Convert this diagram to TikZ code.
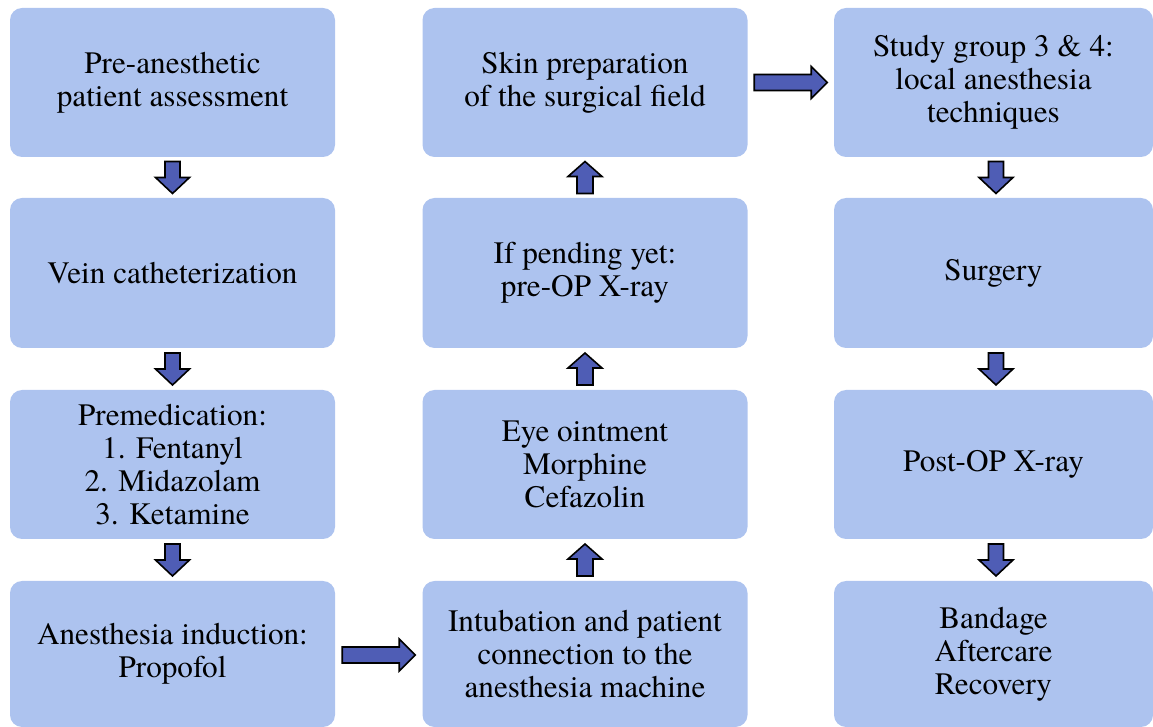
\documentclass[tikz,border=0pt]{standalone}
\usepackage{fontspec}
\setmainfont{texgyretermes}[Extension=.otf, UprightFont=*-regular, BoldFont=*-bold, ItalicFont=*-italic, BoldItalicFont=*-bolditalic]
\usetikzlibrary{calc}
\definecolor{boxblue}{HTML}{ADC3EF}
\definecolor{arrblue}{HTML}{4F5DB5}
\tikzset{
  stepbox/.style={fill=boxblue, rounded corners=6pt, minimum width=162.5pt, inner sep=0pt,
    align=center, font=\fontsize{15.6}{16.5}\selectfont, text=black},
  blockarrow/.style={draw=black, fill=arrblue, line width=0.8pt, line join=miter},
  darrow/.pic={\path[blockarrow] (-7.5,-16)--(7.5,-16)--(7.5,0)--(17,0)--(0,16)--(-17,0)--(-7.5,0)--cycle;},
  uarrow/.pic={\path[blockarrow] (-8,16)--(8,16)--(8,-1)--(17,-1)--(0,-16)--(-17,-1)--(-8,-1)--cycle;},
  rarrow/.pic={\path[blockarrow] (-36.5,-8)--(20.5,-8)--(20.5,-16)--(36.5,0)--(20.5,16)--(20.5,8)--(-36.5,8)--cycle;}
}
\begin{document}
\begin{tikzpicture}[x=0.5pt,y=-0.5pt]
\useasboundingbox (0,0) rectangle (1153,727);
% column 1
\node[stepbox, minimum height=74.5pt] (a1) at (172.5,82.5) {Pre-anesthetic\\patient assessment};
\node[stepbox, minimum height=75pt] (a2) at (172.5,273) {Vein catheterization};
\node[stepbox, minimum height=74.5pt] (a3) at (172.5,464.5) {Premedication:\\1. Fentanyl\\2. Midazolam\\3. Ketamine};
\node[stepbox, minimum height=73pt] (a4) at (172.5,654) {Anesthesia induction:\\Propofol};
% column 2
\node[stepbox, minimum height=73pt] (b4) at (585,654) {Intubation and patient\\connection to the\\anesthesia machine};
\node[stepbox, minimum height=74.5pt] (b3) at (585,464.5) {Eye ointment\\Morphine\\Cefazolin};
\node[stepbox, minimum height=75pt] (b2) at (585,273) {If pending yet:\\pre-OP X-ray};
\node[stepbox, minimum height=74.5pt] (b1) at (585,82.5) {Skin preparation\\of the surgical field};
% column 3
\node[stepbox, minimum width=159.5pt, minimum height=74.5pt] (c1) at (993.5,82.5) {Study group 3 \& 4:\\local anesthesia\\techniques};
\node[stepbox, minimum width=159.5pt, minimum height=75pt] (c2) at (993.5,273) {Surgery};
\node[stepbox, minimum width=159.5pt, minimum height=74.5pt] (c3) at (993.5,464.5) {Post-OP X-ray};
\node[stepbox, minimum width=159.5pt, minimum height=73pt] (c4) at (993.5,654) {Bandage\\Aftercare\\Recovery};
% arrows
\pic at ($(a1.south)!0.5!(a2.north)$) {darrow};
\pic at ($(a2.south)!0.5!(a3.north)$) {darrow};
\pic at ($(a3.south)!0.5!(a4.north)$) {darrow};
\pic at ($(a4.east)!0.5!(b4.west)+(0,1)$) {rarrow};
\pic at ($(b4.north)!0.5!(b3.south)$) {uarrow};
\pic at ($(b3.north)!0.5!(b2.south)$) {uarrow};
\pic at ($(b2.north)!0.5!(b1.south)$) {uarrow};
\pic at ($(b1.east)!0.5!(c1.west)$) {rarrow};
\pic at ($(c1.south)!0.5!(c2.north)+(2.5,0)$) {darrow};
\pic at ($(c2.south)!0.5!(c3.north)+(2.5,0)$) {darrow};
\pic at ($(c3.south)!0.5!(c4.north)+(2.5,0)$) {darrow};
\end{tikzpicture}
\end{document}
